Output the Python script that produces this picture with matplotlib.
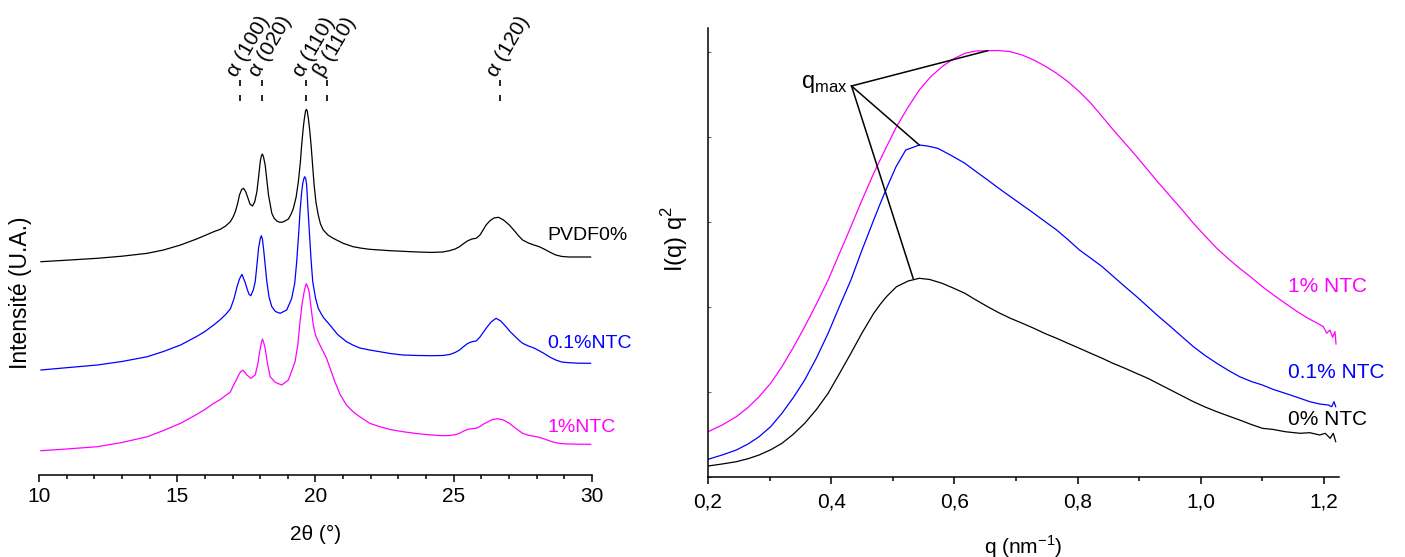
import numpy as np
import matplotlib
matplotlib.use("Agg")
import matplotlib.pyplot as plt
from matplotlib.ticker import MultipleLocator, FixedLocator

plt.rcParams['font.family'] = ['Liberation Sans', 'DejaVu Sans']
plt.rcParams['mathtext.fontset'] = 'custom'
plt.rcParams['mathtext.rm'] = 'Liberation Sans'

# ---- XRD data (2theta in deg, intensity in a.u.)
tt_pvdf = [10.07, 11.0, 12.11, 13.0, 13.92, 14.5, 15.12, 15.7, 16.0, 16.32, 16.56,
           16.75, 16.92, 17.02, 17.10, 17.18, 17.25, 17.33, 17.40, 17.48, 17.54, 17.63,
           17.72, 17.80, 17.88, 17.95, 18.00, 18.04, 18.08, 18.12, 18.18, 18.24, 18.30,
           18.42, 18.50, 18.60, 18.70, 18.78, 18.90, 19.02, 19.12, 19.20, 19.30, 19.38,
           19.45, 19.50, 19.56, 19.60, 19.64, 19.67, 19.70, 19.74, 19.79, 19.84, 19.90,
           19.95, 20.02, 20.10, 20.18, 20.28, 20.45, 20.64, 21.00, 21.36, 21.66, 21.96,
           22.32, 22.70, 23.16, 23.70, 24.20, 24.60, 24.85, 25.05, 25.21, 25.36, 25.51,
           25.66, 25.81, 25.95, 26.05, 26.17, 26.30, 26.45, 26.62, 26.80, 27.01, 27.20,
           27.35, 27.49, 27.70, 27.90, 28.09, 28.30, 28.50, 28.69, 28.90, 29.17, 29.50,
           29.95]
i_pvdf = [213.3, 214.8, 216.7, 218.8, 221.7, 225, 230, 236, 239.5, 243.3, 245.7,
          249, 253.3, 258, 263.3, 271, 280, 285.5, 286.7, 283, 278.3, 271,
          269, 273, 283.3, 300, 313, 319, 321, 318, 310, 295, 280,
          261.7, 257, 254, 252.8, 252.7, 254, 256, 261, 266.7, 278, 293.3,
          312, 330, 348, 357, 364, 365.7, 364, 357, 345, 330, 308,
          290, 272, 260, 251, 245, 240, 236.7, 231.7, 228.3, 226.8, 225.7,
          225, 224.3, 223.7, 223, 222.6, 223, 224.3, 226, 228.3, 231.5, 234.3,
          236, 236.7, 240, 244.5, 250, 254, 257, 257.7, 255, 250, 244,
          239, 235, 232, 230, 228.3, 225.5, 222.5, 220, 218.6, 218, 218,
          218]

tt_01 = [10.07, 11.0, 12.11, 13.0, 13.92, 14.5, 15.12, 15.7, 16.0, 16.32, 16.56,
         16.75, 16.92, 17.05, 17.16, 17.25, 17.34, 17.45, 17.52, 17.59, 17.66, 17.75,
         17.82, 17.90, 17.94, 18.00, 18.04, 18.08, 18.12, 18.18, 18.24, 18.32, 18.42,
         18.55, 18.72, 18.96, 19.14, 19.25, 19.32, 19.40, 19.44, 19.50, 19.54, 19.58,
         19.61, 19.65, 19.68, 19.72, 19.77, 19.84, 19.90, 20.00, 20.10, 20.20, 20.30,
         20.52, 20.80, 21.12, 21.35, 21.60, 21.96, 22.32, 22.70, 23.16, 23.70, 24.20,
         24.60, 24.85, 25.05, 25.21, 25.36, 25.51, 25.66, 25.81, 25.95, 26.05, 26.17,
         26.35, 26.53, 26.70, 26.89, 27.05, 27.20, 27.35, 27.49, 27.70, 27.90, 28.09,
         28.30, 28.50, 28.69, 28.90, 29.17, 29.50, 29.95]
i_01 = [105, 107.3, 110, 113.5, 118.3, 123.5, 130, 138.5, 143.5, 150, 155.5,
        160.5, 166, 176, 188, 196, 200.7, 193, 186.7, 181, 179.3, 185,
        193.3, 215, 226.7, 236, 239.3, 236, 226.7, 210, 193.3, 178, 168.3,
        163.5, 161.7, 165, 176.7, 192, 213.3, 245, 263.3, 283, 291.7, 296.5,
        298.3, 296, 290, 270, 246.7, 215, 193.3, 177, 166.7, 161.5, 157,
        150, 140.5, 133.3, 130, 127, 125, 123.3, 121.5, 120, 119.5, 119.3,
        119.5, 120.5, 122.5, 125, 128.5, 131.7, 133.3, 134, 138, 142, 146.7,
        153, 156.7, 154, 148.3, 143, 139, 135, 131.7, 129, 127, 124.3,
        121, 117.5, 115, 113, 112.3, 111.8, 111.7]

tt_1 = [10.07, 11.0, 12.11, 13.0, 13.92, 14.5, 15.12, 15.7, 16.0, 16.32, 16.56,
        16.75, 16.92, 17.04, 17.15, 17.22, 17.30, 17.38, 17.45, 17.52, 17.66, 17.82,
        17.92, 17.98, 18.04, 18.08, 18.12, 18.18, 18.26, 18.36, 18.54, 18.78, 19.02,
        19.26, 19.36, 19.44, 19.52, 19.59, 19.64, 19.67, 19.72, 19.77, 19.85, 19.92,
        20.00, 20.10, 20.25, 20.40, 20.55, 20.70, 20.90, 21.12, 21.35, 21.60, 21.96,
        22.32, 22.70, 23.16, 23.70, 24.20, 24.60, 24.85, 25.05, 25.21, 25.36, 25.51,
        25.66, 25.81, 25.95, 26.05, 26.17, 26.40, 26.59, 26.80, 27.01, 27.25, 27.49,
        27.70, 27.90, 28.09, 28.30, 28.50, 28.69, 28.90, 29.17, 29.50, 29.95]
i_1 = [24.3, 26, 28.3, 32.5, 38.3, 44.5, 51.7, 60.5, 65.5, 71.7, 75.5,
       79.5, 83, 90, 96, 100, 103.5, 104.7, 102.5, 100, 96.7, 100,
       112, 123.3, 132, 136, 133, 126.7, 112, 98.3, 92.7, 90, 95,
       113.3, 130, 153.3, 172, 183.3, 189, 191.3, 188, 183.3, 165, 150,
       140, 133.3, 125, 116.7, 105, 93.3, 80, 70, 63.5, 58.3, 51.7,
       48.3, 45.5, 43.3, 41.3, 40, 39.3, 39.5, 40.3, 41.7, 44, 45.7,
       46.3, 46.7, 48.5, 50.5, 52.3, 55.5, 56.3, 55, 51.7, 46.5, 41.7,
       39.7, 38.8, 37.7, 35.8, 33.8, 32.3, 31.4, 31, 30.8, 30.7]

xrd_names = ['PVDF0%', '0.1%NTC', '1%NTC']
xrd_label_y = [239, 131, 47]

peak_pos = [17.27, 18.05, 19.65, 20.40, 26.67]
peak_lbl = ['α (100)', 'α (020)', 'α (110)', 'β (110)', 'α (120)']

# ---- SAXS data (q in nm-1, I(q) q^2 in a.u.)
q_0 = [0.200, 0.223, 0.246, 0.265, 0.283, 0.302, 0.320, 0.338, 0.357, 0.376, 0.395,
       0.413, 0.432, 0.450, 0.469, 0.480, 0.490, 0.506, 0.525, 0.543, 0.560, 0.580,
       0.598, 0.617, 0.635, 0.654, 0.672, 0.691, 0.710, 0.729, 0.747, 0.766, 0.785,
       0.803, 0.822, 0.840, 0.858, 0.877, 0.896, 0.914, 0.932, 0.951, 0.970, 0.988,
       1.007, 1.026, 1.045, 1.063, 1.082, 1.100, 1.118, 1.137, 1.161, 1.177, 1.193,
       1.202, 1.210, 1.215, 1.219]
iq_0 = [11, 13, 15.3, 18.3, 22, 27.3, 33.7, 42.5, 53.7, 67.5, 83.7,
        103, 123.7, 144, 163.7, 173, 180.5, 190.3, 196, 198.7, 197.5, 193.7,
        189, 183.7, 177, 170.3, 164.3, 158.7, 153.8, 148.7, 143.5, 138.7, 133.5,
        128.7, 123.5, 118.7, 113.5, 108.7, 103.5, 98.7, 93, 87, 81, 75.3,
        70, 65.3, 61, 57, 52.5, 48.7, 47.5, 45.3, 43.7, 44.3, 42,
        43.7, 38.7, 43.7, 35.3]

q_01 = [0.200, 0.223, 0.246, 0.265, 0.283, 0.302, 0.320, 0.338, 0.357, 0.376, 0.395,
        0.413, 0.432, 0.450, 0.469, 0.480, 0.491, 0.505, 0.521, 0.530, 0.543, 0.556,
        0.573, 0.595, 0.617, 0.635, 0.654, 0.672, 0.691, 0.710, 0.729, 0.747, 0.766,
        0.785, 0.803, 0.822, 0.840, 0.858, 0.877, 0.896, 0.914, 0.932, 0.951, 0.970,
        0.988, 1.007, 1.026, 1.045, 1.063, 1.082, 1.100, 1.118, 1.137, 1.155, 1.177,
        1.193, 1.207, 1.2125, 1.2162, 1.219]
iq_01 = [17.7, 22, 27, 33, 40.3, 50.5, 63.7, 79, 97, 119, 143.7,
         170, 197, 227, 257, 274, 290.3, 310, 327, 329, 332, 331,
         328.7, 321.5, 313.7, 305.5, 297, 288.7, 280.3, 272, 263.7, 255.5, 247,
         237, 227, 218.5, 210.3, 200.5, 190.3, 180.3, 170.3, 160.3, 150.3, 140,
         130.3, 121.5, 113.7, 106.5, 100.3, 95.5, 92, 87.5, 83.7, 80, 75.3,
         73, 72, 70.3, 75.3, 70.3]

q_1 = [0.200, 0.223, 0.246, 0.265, 0.283, 0.302, 0.320, 0.338, 0.357, 0.376, 0.395,
       0.413, 0.432, 0.450, 0.469, 0.488, 0.506, 0.525, 0.543, 0.561, 0.580, 0.598,
       0.617, 0.635, 0.654, 0.672, 0.691, 0.710, 0.729, 0.747, 0.766, 0.785, 0.803,
       0.822, 0.840, 0.858, 0.877, 0.896, 0.914, 0.932, 0.951, 0.970, 0.988, 1.007,
       1.026, 1.045, 1.063, 1.082, 1.100, 1.118, 1.137, 1.155, 1.174, 1.190, 1.199,
       1.2044, 1.2097, 1.214, 1.2179, 1.2195]
iq_1 = [45.3, 52, 60.3, 69.5, 80.3, 94, 110.3, 129, 150.3, 173, 197,
        223, 250.3, 277, 303.7, 328, 350.3, 370, 387, 400, 410.3, 418,
        423.7, 426, 426.3, 426.5, 425.3, 422, 417, 411, 403.7, 395, 385.3,
        373.5, 360.3, 347, 333.7, 320.3, 307, 293.7, 280.3, 267, 253.7, 241,
        228.7, 218, 208.7, 199.5, 190.3, 182, 173.7, 166, 158.7, 153.5, 150.3,
        143.7, 147, 139.7, 145.3, 133]

saxs_names = ['0% NTC', '0.1% NTC', '1% NTC']
saxs_label_y = [57.5, 104, 191]

qmax_vertex = (0.433, 391)
qmax_q = [0.543, 0.533, 0.654]
qmax_i = [332, 198.7, 426.3]

q_ticks = [0.2, 0.4, 0.6, 0.8, 1.0, 1.2]
q_ticklabels = ['0,2', '0,4', '0,6', '0,8', '1,0', '1,2']

colors = ['black', '#0000FF', '#FF00FF']

W, H = 1405, 557
fig = plt.figure(figsize=(W / 100, H / 100), dpi=100)

# ---------------- left panel : XRD
ax1 = fig.add_axes([39 / W, (H - 475) / H, (592 - 39) / W, 455 / H])
for tt, ii, c in zip([tt_pvdf, tt_01, tt_1], [i_pvdf, i_01, i_1], colors):
    ax1.plot(tt, ii, color=c, lw=0.9)
for name, yy, c in zip(xrd_names, xrd_label_y, colors):
    ax1.text(28.38, yy, name, color=c, fontsize=14, ha='left', va='center')

for p, lbl in zip(peak_pos, peak_lbl):
    ax1.plot([p, p], [374, 395], color='black', lw=1.2, ls=(0, (3.6, 5.4)),
             clip_on=False)
    ax1.annotate(lbl, xy=(p, 397), xytext=(-3, 0), textcoords='offset pixels',
                 rotation=60, rotation_mode='anchor', ha='left', va='baseline',
                 fontsize=15, annotation_clip=False)

ax1.set_xlim(10, 30)
ax1.set_ylim(0, 455)
for s in ['left', 'right', 'top']:
    ax1.spines[s].set_visible(False)
ax1.spines['bottom'].set_linewidth(1.1)
ax1.set_yticks([])
ax1.xaxis.set_major_locator(MultipleLocator(5))
ax1.xaxis.set_minor_locator(MultipleLocator(1))
ax1.tick_params(axis='x', which='major', length=5, width=1.1, labelsize=15, pad=4)
ax1.tick_params(axis='x', which='minor', length=3, width=1.1)
ax1.set_xlabel('2θ (°)', fontsize=15)
ax1.xaxis.set_label_coords(0.5, -0.11)
ax1.xaxis.label.set_va('top')
ax1.set_ylabel('Intensité (U.A.)', fontsize=16.5)
ax1.yaxis.set_label_coords(-0.013, 0.40)

# ---------------- right panel : SAXS
ax2 = fig.add_axes([708 / W, (H - 477) / H, (1339.4 - 708) / W, 449 / H])
for qq, ii, c in zip([q_0, q_01, q_1], [iq_0, iq_01, iq_1], colors):
    ax2.plot(qq, ii, color=c, lw=0.9)
for name, yy, c in zip(saxs_names, saxs_label_y, colors):
    ax2.text(1.141, yy, name, color=c, fontsize=15, ha='left', va='center')

for xq, yi in zip(qmax_q, qmax_i):
    ax2.plot([qmax_vertex[0], xq], [qmax_vertex[1], yi], color='black', lw=1.1)
ax2.text(qmax_vertex[0] - 0.007, qmax_vertex[1] + 2, r'q$_{\mathregular{max}}$',
         fontsize=17, ha='right', va='center')

ax2.set_xlim(0.2, 1.225)
ax2.set_ylim(0, 449)
for s in ['right', 'top']:
    ax2.spines[s].set_visible(False)
ax2.spines['bottom'].set_linewidth(1.1)
ax2.spines['left'].set_linewidth(1.1)
ax2.xaxis.set_major_locator(FixedLocator(q_ticks))
ax2.set_xticklabels(q_ticklabels)
ax2.xaxis.set_minor_locator(MultipleLocator(0.1))
ax2.tick_params(axis='x', which='major', length=5, width=1.1, labelsize=15, pad=6)
ax2.tick_params(axis='x', which='minor', length=3, width=1.1)
ax2.yaxis.set_major_locator(MultipleLocator(85))
ax2.yaxis.set_major_formatter(plt.NullFormatter())
ax2.tick_params(axis='y', direction='in', length=2.5, width=0.8, color='0.4')
ax2.set_xlabel('q (nm$^{\\mathregular{-1}}$)', fontsize=15)
ax2.xaxis.set_label_coords(0.5, -0.125)
ax2.xaxis.label.set_va('top')
ax2.set_ylabel('I(q) q$^{\\mathregular{2}}$', fontsize=17)
ax2.yaxis.set_label_coords(-0.028, 0.53)

fig.savefig('out.png', dpi=100)
